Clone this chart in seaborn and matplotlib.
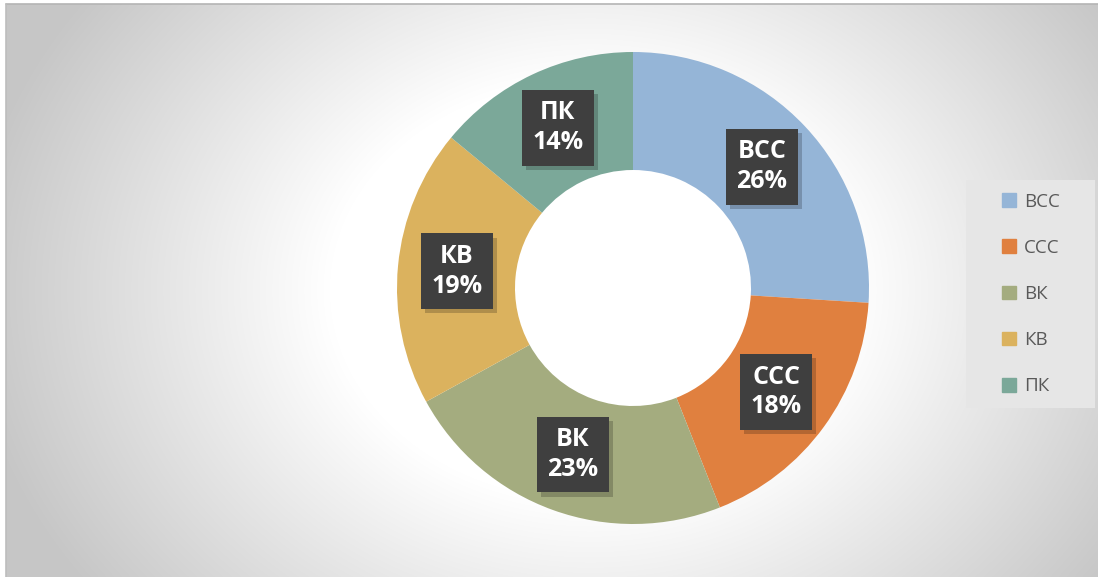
import numpy as np
import matplotlib
matplotlib.use("Agg")
import matplotlib.pyplot as plt
import matplotlib.patches as mpatches
import matplotlib.patheffects as pe
import seaborn as sns

# ---- data ----
categories = ["ВСС", "ССС", "ВК", "КВ", "ПК"]
shares = [26, 18, 23, 19, 14]
colors = ["#95B5D7", "#E0803F", "#A4AC7F", "#DBB25E", "#7BA899"]

sns.set_style("white")
plt.rcParams["font.family"] = ["Open Sans", "DejaVu Sans"]

W, H = 1098, 577
fig = plt.figure(figsize=(W / 100, H / 100), dpi=100)
fig.patch.set_facecolor("white")

# ---- radial gradient background ----
x0, y0 = 6, 4
bg = fig.add_axes([x0 / W, 0, 1 - x0 / W, 1 - y0 / H])
X, Y = np.meshgrid(np.arange(x0, W), np.arange(y0, H))
d = np.sqrt(((X - 590) / 620.0) ** 2 + ((Y - 290) / 500.0) ** 2)
g = 1.0 - 0.22 * np.clip((d - 0.42) / 0.58, 0, 1)
bg.imshow(np.dstack([g, g, g]), aspect="auto", interpolation="bilinear")
bg.set_axis_off()
fig.add_artist(plt.Line2D([x0 / W, 1], [1 - y0 / H, 1 - y0 / H], color="#b4b4b4", lw=1.2))
fig.add_artist(plt.Line2D([x0 / W, x0 / W], [0, 1 - y0 / H], color="#bdbdbd", lw=1.2))

# ---- donut ----
cx, cy, R = 633, 288, 236
lim = 1.05
ax = fig.add_axes([(cx - R * lim) / W, (H - cy - R * lim) / H, 2 * R * lim / W, 2 * R * lim / H])
wedges, _ = ax.pie(shares, colors=colors, startangle=90, counterclock=False,
                   radius=1.0, wedgeprops=dict(width=0.5, edgecolor="none"))
ax.set_xlim(-lim, lim)
ax.set_ylim(-lim, lim)
ax.set_aspect("equal")
ax.set_axis_off()

total = sum(shares)
for w, cat, val in zip(wedges, categories, shares):
    ang = np.deg2rad((w.theta1 + w.theta2) / 2)
    r = 0.75
    label = f"{cat}\n{round(val / total * 100)}%"
    t = ax.text(r * np.cos(ang), r * np.sin(ang), label, ha="center", va="center",
                fontsize=18, fontweight="bold", color="white", linespacing=1.25,
                bbox=dict(boxstyle="square,pad=0.42", fc="#3f3f3f", ec="none", lw=0))
    t.get_bbox_patch().set_path_effects([
        pe.SimplePatchShadow(offset=(3, -3), shadow_rgbFace="black", alpha=0.2),
        pe.Normal()])

# ---- legend ----
fig.add_artist(mpatches.Rectangle((966 / W, 1 - 408 / H), 129 / W, 228 / H,
                                  transform=fig.transFigure, fc="#e6e6e6", ec="none", zorder=1))
handles = [mpatches.Patch(color=c, label=l) for c, l in zip(colors, categories)]
leg = fig.legend(handles=handles, loc="center", bbox_to_anchor=(1031 / W, 1 - 294 / H),
                 frameon=False, fontsize=13.5, labelspacing=1.5, handlelength=0.75,
                 handleheight=0.75, handletextpad=0.4, borderaxespad=0)
leg.set_zorder(5)
for t in leg.get_texts():
    t.set_color("#595959")

fig.savefig("out.png", dpi=100)
